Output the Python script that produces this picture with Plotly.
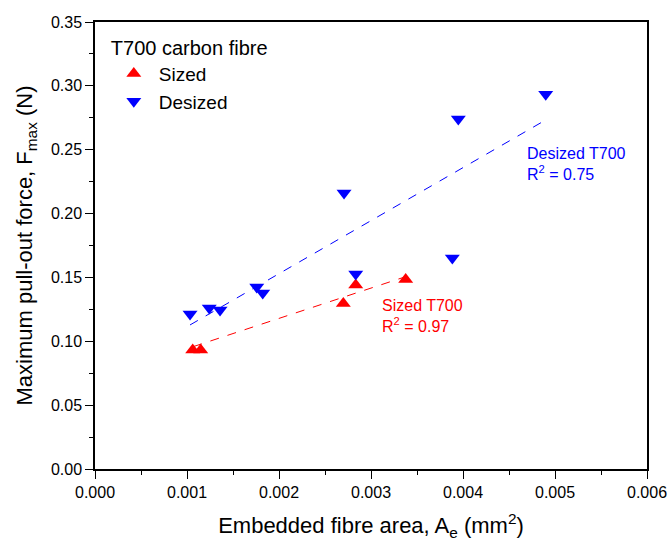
import plotly.graph_objects as go

# Sized T700 (area in mm^2, force in N)
sized_area = [0.001062, 0.001149, 0.002699, 0.002834, 0.003377]
sized_force = [0.0932, 0.0932, 0.1296, 0.1441, 0.1484]

# Desized T700
desized_area = [0.001033, 0.001242, 0.001359, 0.001758, 0.001823,
                0.002707, 0.002834, 0.003884, 0.003949, 0.004899]
desized_force = [0.1214, 0.1261, 0.1245, 0.1425, 0.1378,
                 0.2161, 0.1527, 0.1652, 0.2741, 0.2935]

# Linear fit lines (end points)
sized_fit_x = [0.001068, 0.003377]
sized_fit_y = [0.0958, 0.1506]
desized_fit_x = [0.001033, 0.004899]
desized_fit_y = [0.1128, 0.2733]

FONT = "Arial, Liberation Sans, sans-serif"

fig = go.Figure()
fig.add_trace(go.Scatter(x=sized_fit_x, y=sized_fit_y, mode="lines",
                         line=dict(color="red", width=1, dash="dash"),
                         showlegend=False, hoverinfo="skip"))
fig.add_trace(go.Scatter(x=desized_fit_x, y=desized_fit_y, mode="lines",
                         line=dict(color="blue", width=1, dash="dash"),
                         showlegend=False, hoverinfo="skip"))
fig.add_trace(go.Scatter(x=sized_area, y=sized_force, mode="markers", name="Sized",
                         marker=dict(symbol="triangle-up", size=13, color="#ff0000")))
fig.add_trace(go.Scatter(x=desized_area, y=desized_force, mode="markers", name="Desized",
                         marker=dict(symbol="triangle-down", size=13, color="#0000ff")))

fig.add_annotation(x=0.004674, y=0.2388, xref="x", yref="y",
                   text="Desized T700<br>R<sup>2</sup> = 0.75", showarrow=False,
                   xanchor="left", yanchor="middle", align="left",
                   font=dict(family=FONT, size=16, color="blue"))
fig.add_annotation(x=0.003098, y=0.1198, xref="x", yref="y",
                   text="Sized T700<br>R<sup>2</sup> = 0.97", showarrow=False,
                   xanchor="left", yanchor="middle", align="left",
                   font=dict(family=FONT, size=16, color="red"))

axis_common = dict(showline=True, linecolor="black", linewidth=1.5, mirror=True,
                   ticks="outside", ticklen=8, tickwidth=1.2, tickcolor="black",
                   showgrid=False, zeroline=False, automargin=False,
                   tickfont=dict(family=FONT, size=16, color="black"))

fig.update_xaxes(range=[0, 0.006], tickvals=[0, 0.001, 0.002, 0.003, 0.004, 0.005, 0.006],
                 tickformat=".3f",
                 minor=dict(ticks="outside", ticklen=4, dtick=0.0005, tickcolor="black"),
                 title=dict(text="Embedded fibre area, A<sub>e</sub> (mm<sup>2</sup>)",
                            font=dict(family=FONT, size=22, color="black"), standoff=18),
                 **axis_common)
fig.update_yaxes(range=[0, 0.35], dtick=0.05, tickformat=".2f",
                 minor=dict(ticks="outside", ticklen=4, dtick=0.025, tickcolor="black"),
                 title=dict(text="Maximum pull-out force, F<sub>max</sub> (N)",
                            font=dict(family=FONT, size=22, color="black"), standoff=12),
                 **axis_common)

fig.update_layout(
    width=672, height=541,
    margin=dict(l=95, r=25, t=22, b=72),
    plot_bgcolor="white", paper_bgcolor="white",
    font=dict(family=FONT, color="black"),
    legend=dict(x=0.025, y=0.985, xanchor="left", yanchor="top",
                title=dict(text="T700 carbon fibre", font=dict(family=FONT, size=20, color="black")),
                font=dict(family=FONT, size=19, color="black"),
                bgcolor="rgba(0,0,0,0)", tracegroupgap=0, itemwidth=40),
)

fig.write_html("out.html", config={"displayModeBar": False},
               post_script="document.body.style.margin='0';document.body.style.overflow='hidden';")
